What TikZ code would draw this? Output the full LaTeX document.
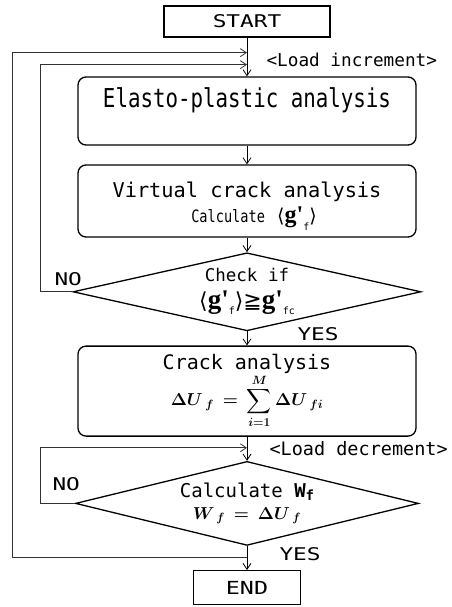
\documentclass[tikz,border=0pt]{standalone}
\usepackage{amsmath,amssymb}
\usepackage[no-math]{fontspec}
\setmainfont{DejaVu Sans Mono}
\newfontfamily\widefont[FakeStretch=1.3]{DejaVu Sans Mono}
\newfontfamily\narrowfont[FakeStretch=0.8]{DejaVu Sans Mono}
\newfontfamily\symfont{DejaVu Sans}
\newfontfamily\gfont{Liberation Serif Bold}
\usetikzlibrary{positioning, calc, shapes.geometric, arrows.meta}

% bold g' with a small upright subscript
\newcommand{\gsub}[2]{{\gfont\fontsize{#1}{#1}\selectfont g'}\raisebox{-0.35em}{\fontsize{10}{10}\selectfont #2}}

\begin{document}
\begin{tikzpicture}[
        x=1pt, y=-1pt,
        terminal/.style={rectangle, draw, line width=1.3pt, minimum width=166pt, minimum height=31pt, inner sep=0pt, font=\widefont\fontsize{17.5}{20}\selectfont},
        process/.style={rectangle, draw, line width=1.3pt, rounded corners=8pt, minimum width=338pt, inner sep=0pt, align=center},
        decision/.style={diamond, draw, line width=1.3pt, inner sep=-10pt, align=center},
        flow/.style={line width=0.8pt, -{Straight Barb[length=6pt,width=8pt]}},
        loopline/.style={flow, black!80},
        note/.style={anchor=base west, font=\fontsize{17.7}{20}\selectfont},
        answer/.style={anchor=base west, font=\widefont\fontsize{17.5}{20}\selectfont}
    ]
        \useasboundingbox (0,0) rectangle (451,607);

        % main column
        \node[terminal] (start) at (247,21.5) {START};
        \node[process, below=38.7pt of start, font=\narrowfont\fontsize{26}{30}\selectfont, text height=30pt, text depth=38pt] (elasto) {Elasto-plastic analysis};
        \node[process, below=18.7pt of elasto, minimum height=72pt, font=\fontsize{20.3}{25}\selectfont] (virt)
            {\rule{0pt}{26pt}Virtual crack analysis\\ \hspace*{14pt}{\narrowfont\fontsize{17}{25}\selectfont Calculate} {\symfont\fontsize{19}{19}\selectfont ⟨}\gsub{24}{f}{\symfont\fontsize{19}{19}\selectfont ⟩}};
        \node[decision, below=14.5pt of virt, aspect=4.46, minimum width=348pt, minimum height=78pt, font=\fontsize{17.5}{27}\selectfont] (chk)
            {Check if\\ {\symfont\fontsize{22}{22}\selectfont ⟨}\gsub{27}{f}{\symfont\fontsize{22}{22}\selectfont ⟩≧}\gsub{27}{fc}};
        \node[process, below=14pt of chk, minimum height=90pt, font=\fontsize{20}{27}\selectfont] (crack)
            {Crack analysis\\ \fontsize{17.28}{27}\selectfont {\boldmath$\displaystyle\Delta U_{\,\,f}\,=\,\sum_{i=1}^{M}\Delta U_{\,\,fi}$}};
        \node[decision, below=24pt of crack, aspect=4.08, minimum width=343pt, minimum height=84pt, font=\fontsize{19}{22}\selectfont] (wf)
            {Calculate {\bfseries W\raisebox{-0.15em}{\fontsize{14}{14}\selectfont f}}\\ \fontsize{17.28}{22}\selectfont {\boldmath$W_{\,\,f}\,=\,\Delta U_{\,\,f}$}};
        \node[terminal, below=24pt of wf, minimum width=107pt, minimum height=34pt, font=\widefont\fontsize{18}{20}\selectfont] (stop) {END};

        \draw[flow] (start) -- (elasto);
        \draw[flow] (elasto) -- (virt);
        \draw[flow] (virt) -- (chk);
        \draw[flow] (chk) -- (crack);
        \draw[flow] (crack) -- (wf);
        \draw[flow] (wf) -- (stop);

        % feedback loops
        \coordinate (j1) at ([yshift=-15pt]start.south);
        \coordinate (j2) at ([yshift=-27pt]start.south);
        \coordinate (j4) at ([yshift=-11pt]crack.south);
        \coordinate (j3) at ([yshift=-11pt]wf.south);
        \coordinate (outer) at (12,0);
        \coordinate (inner) at (40,0);

        \draw[loopline] (chk.west) -- (chk.west -| inner) |- (j2);
        \draw[loopline] (wf.west) -- (wf.west -| inner) |- (j4);
        \draw[loopline] (j3) -- (j3 -| outer) |- (j1);

        \node[note] (incr) at (263,67) {<Load increment>};
        \node[note, font=\fontsize{18.5}{20}\selectfont] (decr) at (266,455) {<Load decrement>};
        \node[answer] (no1) at (51,285) {NO};
        \node[answer] (yes1) at (294,340) {YES};
        \node[answer] (no2) at (49,490) {NO};
        \node[answer] (yes2) at (276,560) {YES};
    \end{tikzpicture}
\end{document}
